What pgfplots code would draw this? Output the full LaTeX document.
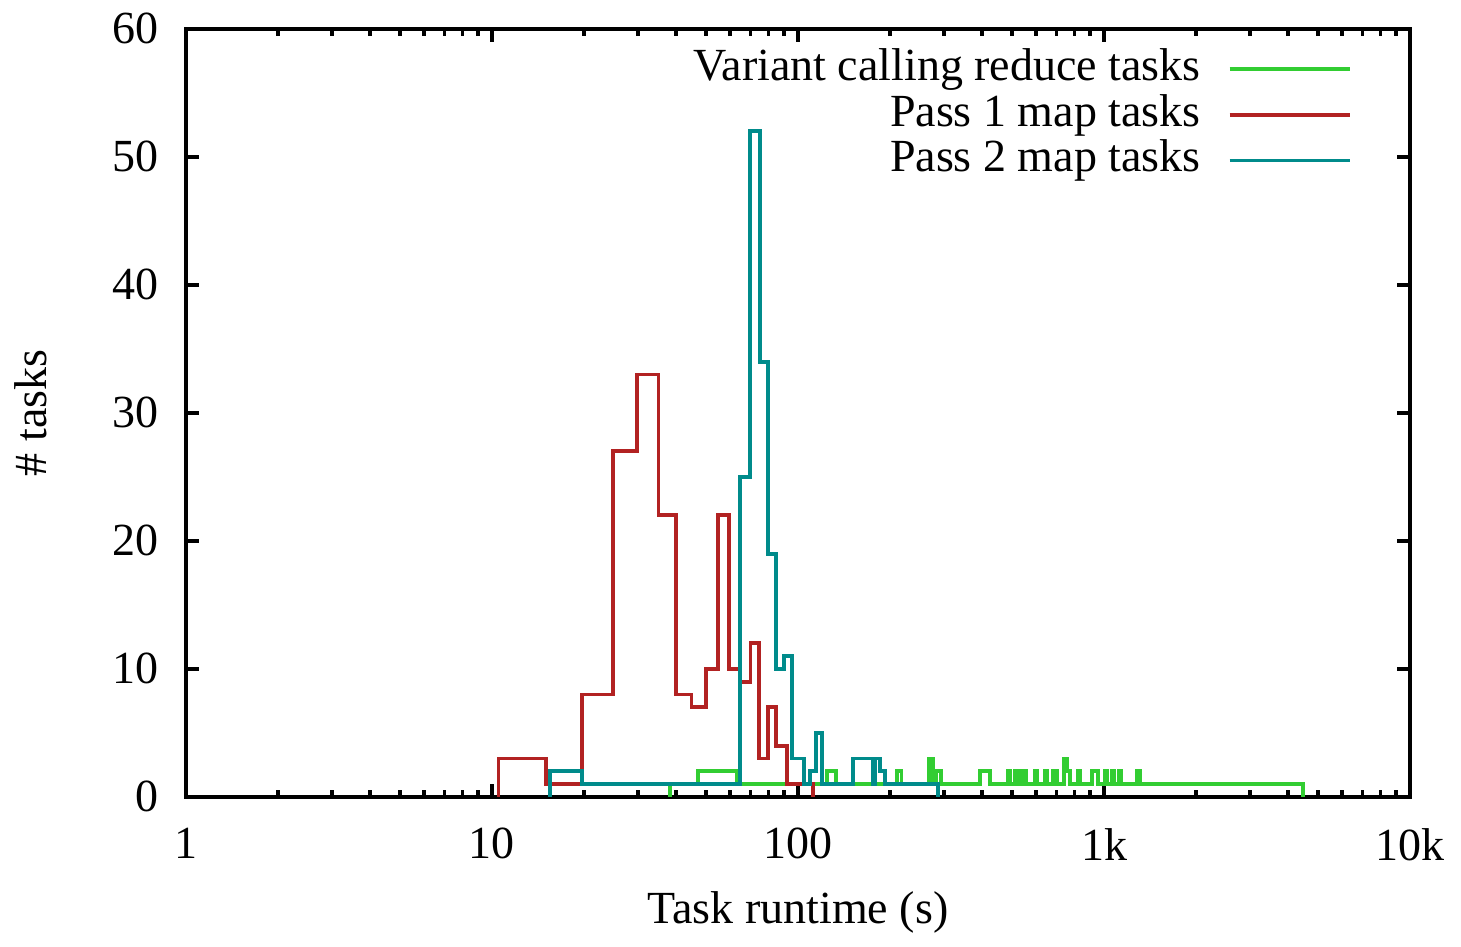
\documentclass[border=0pt]{standalone}
\usepackage{fontspec}
\setmainfont{Liberation Serif}
\usepackage{pgfplots}
\pgfplotsset{compat=1.18}
\definecolor{gpgreen}{HTML}{32CD32}
\definecolor{gpred}{HTML}{B22222}
\definecolor{gpteal}{HTML}{008B8B}

\begin{document}
\begin{tikzpicture}[font=\fontsize{11.5}{13}\selectfont]
\begin{axis}[
  name=ax,
  scale only axis,
  width=306pt, height=192pt,
  xmode=log,
  xmin=1, xmax=10000,
  ymin=0, ymax=60,
  xtick={1,10,100,1000,10000},
  xticklabels={1,10,100,1k,10k},
  ytick={0,10,...,60},
  axis line style={line width=1.1pt},
  major tick style={line width=0.9pt, black},
  minor tick style={line width=0.9pt, black},
  major tick length=3.2pt,
  minor tick length=1.8pt,
  /pgf/number format/assume math mode=true,
  xticklabel style={yshift=-4.3pt},
  yticklabel style={xshift=-3.4pt},
  xlabel={Task runtime (s)},
  ylabel={\# tasks},
  xlabel style={at={(axis description cs:0.5,-0.151)}, anchor=center},
  ylabel style={at={(axis description cs:-0.127,0.5)}, anchor=center},
  legend cell align=right,
  legend plot pos=right,
  legend image code/.code={\draw[#1] (0pt,0pt) -- (30pt,0pt);},
  legend style={draw=none, fill=none, at={(rel axis cs:1,1)}, anchor=north east,
    xshift=-14.4pt, yshift=-4.2pt, inner sep=0pt, row sep=0pt,
    nodes={inner sep=0.5pt, text height=8pt, text depth=2.4pt},
    /tikz/every odd column/.append style={column sep=6.3pt}},
  every axis plot/.append style={const plot, line width=0.95pt},
]
% Variant calling reduce tasks
\addplot[gpgreen] coordinates {
  (38.2,0)(38.2,1)(47.2,2)(63.3,1)(124.4,2)(133.1,1)(210.6,2)(217.9,1)
  (268,3)(276,1)(282.5,2)(293.4,1)(393,2)(424,1)(486,2)(495,1)(512,2)(528,1)
  (544,2)(556,1)(595,2)(604,1)(642,2)(654,1)(681,2)(702,1)(740,3)(757,2)(774,1)
  (822,2)(835,1)(914,2)(956,1)(1008,2)(1023,1)(1062,2)(1078,1)(1119,2)(1137,1)
  (1282,2)(1311,1)(4470,0)
};
\addlegendentry{Variant calling reduce tasks}
% Pass 1 map tasks
\addplot[gpred] coordinates {
  (10.5,0)(10.5,3)(15,1)(19.7,8)(24.9,27)(29.8,33)(35,22)(39.9,8)(44.9,7)
  (50,10)(54.9,22)(59.6,10)(64.6,9)(70,12)(74.7,3)(80,7)(84.8,4)(92,1)(112,0)
};
\addlegendentry{Pass 1 map tasks}
% Pass 2 map tasks
\addplot[gpteal] coordinates {
  (15.5,0)(15.5,2)(19.7,1)(64.6,25)(69.7,52)(75.1,34)(80,19)(84.8,10)(90,11)
  (95.4,3)(104.9,1)(109.4,2)(114.5,5)(120.1,1)(151.6,3)(175.9,1)(178.5,3)
  (185.3,2)(192.5,1)(287.4,0)
};
\addlegendentry{Pass 2 map tasks}
\end{axis}
\path (ax.south west) ++(-46.5pt,-34.25pt) rectangle ([shift={(12.75pt,6.75pt)}]ax.north east);
\end{tikzpicture}
\end{document}
